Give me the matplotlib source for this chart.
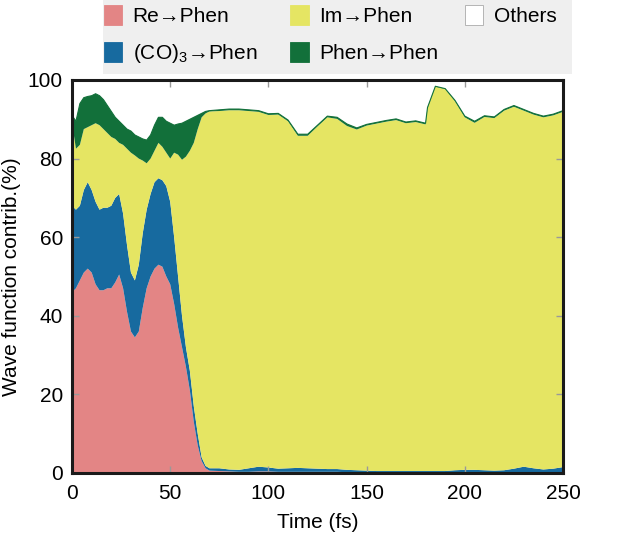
import numpy as np
import matplotlib
matplotlib.use("Agg")
import matplotlib.pyplot as plt
from matplotlib.patches import Patch, Rectangle

plt.rcParams['font.family'] = ['Liberation Sans', 'DejaVu Sans']
plt.rcParams['mathtext.fontset'] = 'custom'
plt.rcParams['mathtext.rm'] = 'Liberation Sans'

# time grid (fs)
time = [0, 2, 4, 6, 8, 10, 12, 14, 16, 18, 20, 22, 24, 26, 28, 30, 32, 34, 36, 38,
        40, 42, 44, 46, 48, 50, 52, 54, 56, 58, 60, 62, 64, 66, 68, 70,
        75, 80, 85, 90, 95, 100, 105, 110, 115, 120, 125, 130, 135, 140, 145, 150,
        155, 160, 165, 170, 175, 180, 181, 185, 190, 195, 200, 205, 210, 215, 220,
        225, 230, 235, 240, 245, 250]

# contributions (%)
re_phen = [46, 47, 49, 51, 52, 51, 48, 46.5, 46.5, 47, 47, 48.5, 50.5, 47, 41, 36, 34.5, 36, 42, 47,
           50, 52, 53, 52.5, 50, 48, 43, 37, 32, 27, 21, 13, 7, 3, 1.2, 0.6,
           0.5, 0.4, 0.3, 0.3, 0.4, 0.4, 0.3, 0.3, 0.3, 0.3, 0.3, 0.3, 0.3, 0.2, 0.2, 0.2,
           0.2, 0.2, 0.2, 0.2, 0.2, 0.2, 0.2, 0.2, 0.2, 0.2, 0.2, 0.2, 0.2, 0.2, 0.2,
           0.2, 0.2, 0.2, 0.2, 0.2, 0.2]
co_phen = [22, 20, 19, 21, 22, 21, 21, 20.5, 21, 20.5, 21, 21.5, 20.5, 19, 17, 15, 14.5, 17, 19, 20,
           21, 22, 22, 22, 23, 21, 17, 13, 8, 5, 5, 4, 3, 1, 0.6, 0.6,
           0.7, 0.5, 0.5, 0.9, 1.2, 1.0, 0.8, 0.9, 1.0, 0.9, 0.8, 0.7, 0.7, 0.6, 0.5, 0.4,
           0.3, 0.3, 0.3, 0.3, 0.3, 0.3, 0.3, 0.3, 0.3, 0.5, 0.6, 0.6, 0.5, 0.4, 0.5,
           0.9, 1.4, 1.0, 0.7, 0.9, 1.3]
im_phen = [21, 15.5, 15.5, 15.5, 14, 16.5, 20, 21.5, 20, 19, 17.5, 15, 13, 17.5, 24.5, 30.5, 31.8, 27, 18.5, 11.8,
           9, 8, 9, 8.5, 8.5, 11, 21.5, 31, 39.7, 48.5, 56, 67, 77.5, 86.5, 89.7, 90.8,
           90.9, 91.4, 91.5, 90.9, 90.3, 89.7, 90.1, 88.3, 84.5, 84.6, 87.1, 89.5, 89.1, 87.5, 86.7, 87.8,
           88.4, 88.9, 89.3, 88.5, 88.8, 88.2, 92.3, 97.8, 97.2, 93.9, 89.7, 88.3, 89.9, 89.7, 91.5,
           92.1, 90.6, 90.0, 89.6, 89.9, 90.4]
phen_phen = [2, 7, 10.5, 8, 7.8, 7.5, 7.5, 7.5, 7.5, 7, 6.5, 5.5, 5.5, 5, 5, 5.5, 5.2, 5.5, 5.5, 5.9,
             6, 6.5, 6.5, 7.5, 8, 9, 7, 7.8, 9.3, 9, 8, 6.5, 3.5, 1, 0.5, 0.2,
             0.3, 0.3, 0.3, 0.3, 0.3, 0.3, 0.3, 0.3, 0.4, 0.4, 0.3, 0.3, 0.4, 0.5, 0.4, 0.3,
             0.3, 0.3, 0.3, 0.3, 0.3, 0.3, 0.2, 0.1, 0.1, 0.2, 0.3, 0.4, 0.3, 0.3, 0.3,
             0.3, 0.3, 0.3, 0.3, 0.3, 0.3]

labels = ["Re\u2192Phen", "(CO)$_3$\u2192Phen", "Im\u2192Phen", "Phen\u2192Phen", "Others"]
colors = ["#e38585", "#176a9f", "#e5e563", "#12703a", "#ffffff"]

fig = plt.figure(figsize=(6.22, 5.35), dpi=100)
ax = fig.add_axes([0.1158, 0.1159, 0.7894, 0.7346])

ax.stackplot(time, re_phen, co_phen, im_phen, phen_phen,
             colors=colors[:4], linewidth=0)
total = np.array(re_phen) + np.array(co_phen) + np.array(im_phen) + np.array(phen_phen)
ax.plot(time, total, color="#12703a", lw=0.8)

ax.set_xlim(0, 250)
ax.set_ylim(0, 100)
ax.set_xticks([0, 50, 100, 150, 200, 250])
ax.set_yticks([0, 20, 40, 60, 80, 100])
ax.tick_params(direction="in", length=5, width=1, color="#999999",
               top=True, right=True, labelsize=15)
ax.tick_params(axis="y", pad=6.5)
ax.tick_params(axis="x", pad=8)
for s in ax.spines.values():
    s.set_linewidth(2.2)
    s.set_color("#1a1a1a")
ax.set_xlabel("Time (fs)", fontsize=15, labelpad=7)
ax.set_ylabel("Wave function contrib.(%)", fontsize=15, labelpad=5)

# grey legend background
fig.patches.append(Rectangle((103 / 622, 1 - 74 / 535), 469 / 622, 80 / 535,
                             transform=fig.transFigure, facecolor="#efefef",
                             edgecolor="none", zorder=0))

handles = [Patch(facecolor=c, edgecolor="#aaaaaa" if c == "#ffffff" else c, lw=0.6) for c in colors]
leg_kw = dict(loc="upper left", fontsize=15, frameon=False,
              handlelength=0.87, handleheight=1.1, handletextpad=0.5,
              labelspacing=0.75, columnspacing=1.6, borderaxespad=0, borderpad=0)
leg1 = fig.legend(handles[:4], labels[:4], ncol=2,
                  bbox_to_anchor=(104 / 622, 1 - 5 / 535), **leg_kw)
leg2 = fig.legend(handles[4:], labels[4:], ncol=1,
                  bbox_to_anchor=(465 / 622, 1 - 5 / 535), **leg_kw)

fig.savefig("out.png", dpi=100)
